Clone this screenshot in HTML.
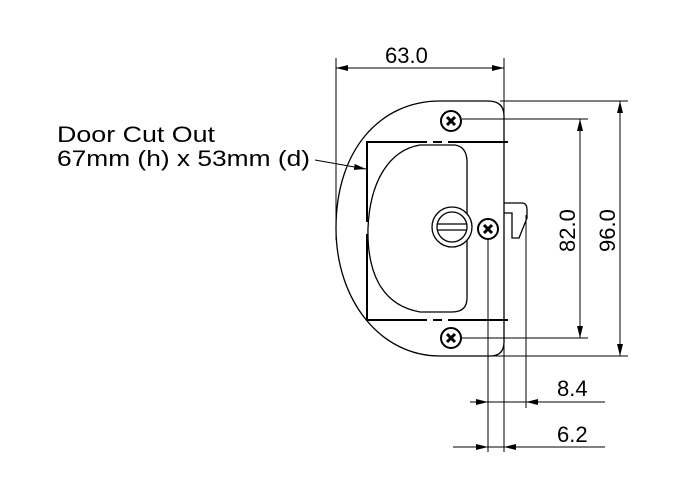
<!DOCTYPE html>
<html><head><style>html,body{margin:0;padding:0;background:#fff}svg{display:block}</style></head>
<body>
<svg width="700" height="495" viewBox="0 0 700 495" xmlns="http://www.w3.org/2000/svg" font-family="Liberation Sans, sans-serif">
<defs>
<marker id="a" viewBox="0 0 12 6" refX="12" refY="3" markerWidth="12" markerHeight="6" markerUnits="userSpaceOnUse" orient="auto-start-reverse"><path d="M0,0 L12,3 L0,6 z" fill="#000"/></marker>
</defs>
<g fill="none" stroke="#000" stroke-width="1">
<line x1="336" y1="58" x2="336" y2="240"/>
<line x1="504" y1="58" x2="504" y2="452"/>
<line x1="488" y1="240" x2="488" y2="452"/>
<line x1="526" y1="215" x2="526" y2="408"/>
<line x1="500" y1="101" x2="628" y2="101"/>
<line x1="462" y1="119" x2="588" y2="119"/>
<line x1="462" y1="338" x2="588" y2="338"/>
<line x1="490" y1="356" x2="628" y2="356"/>
<line x1="336" y1="68" x2="504" y2="68" marker-start="url(#a)" marker-end="url(#a)"/>
<line x1="580" y1="119" x2="580" y2="338" marker-start="url(#a)" marker-end="url(#a)"/>
<line x1="620" y1="101" x2="620" y2="356" marker-start="url(#a)" marker-end="url(#a)"/>
<line x1="470" y1="402" x2="605" y2="402"/>
<line x1="470" y1="402" x2="488" y2="402" marker-end="url(#a)"/>
<line x1="545" y1="402" x2="526" y2="402" marker-end="url(#a)"/>
<line x1="453" y1="447" x2="605" y2="447"/>
<line x1="468" y1="447" x2="488" y2="447" marker-end="url(#a)"/>
<line x1="522" y1="447" x2="504" y2="447" marker-end="url(#a)"/>
<line x1="315" y1="160" x2="366" y2="169" marker-end="url(#a)"/>
<path d="M488,101 Q504,101 504,116 L504,342 Q504,356 490,356 L440,356 C380,356 336,300 336,228 C336,150 380,101 440,101 Z" stroke-width="1.3"/>
<path d="M508,142 L448,142 M442,142 L433,142 M427,142 L367,142 L367,222 M367,234 L367,320 L427,320 M433,320 L442,320 M448,320 L508,320" stroke-width="2"/>
<path d="M455,145 Q467,147 467,162 L467,298 Q467,312 452,312 L420,312 C380,305 367,270 368,228 C370,180 390,150 420,145 Z" stroke-width="1.3"/>
<circle cx="452" cy="227" r="20" fill="#fff" stroke-width="1.3"/>
<circle cx="452" cy="227" r="15" stroke-width="1.3"/>
<path d="M438,224 L466,224 M438,230 L466,230" stroke-width="1.3"/>
<path d="M504,203 L522,203 Q527,203 527,210 L527,218 L519,238 L512,238 L512,213 L504,213" stroke-width="1.3"/>
<g stroke-width="2">
<circle cx="451" cy="121" r="10"/><path d="M447,117 L455,125 M455,117 L447,125" stroke-width="3"/>
<circle cx="451" cy="338" r="10"/><path d="M447,334 L455,342 M455,334 L447,342" stroke-width="3"/>
<circle cx="488" cy="229" r="10"/><path d="M484,225 L492,233 M492,225 L484,233" stroke-width="3"/>
</g>
</g>
<g fill="#000" font-size="22">
<text x="385" y="63">63.0</text>
<text x="57" y="142" textLength="158" lengthAdjust="spacingAndGlyphs">Door Cut Out</text>
<text x="57" y="166" textLength="253" lengthAdjust="spacingAndGlyphs">67mm (h) x 53mm (d)</text>
<text x="557" y="396">8.4</text>
<text x="557" y="442">6.2</text>
<text transform="translate(575,252) rotate(-90)">82.0</text>
<text transform="translate(615,252) rotate(-90)">96.0</text>
</g>
</svg>
</body></html>
